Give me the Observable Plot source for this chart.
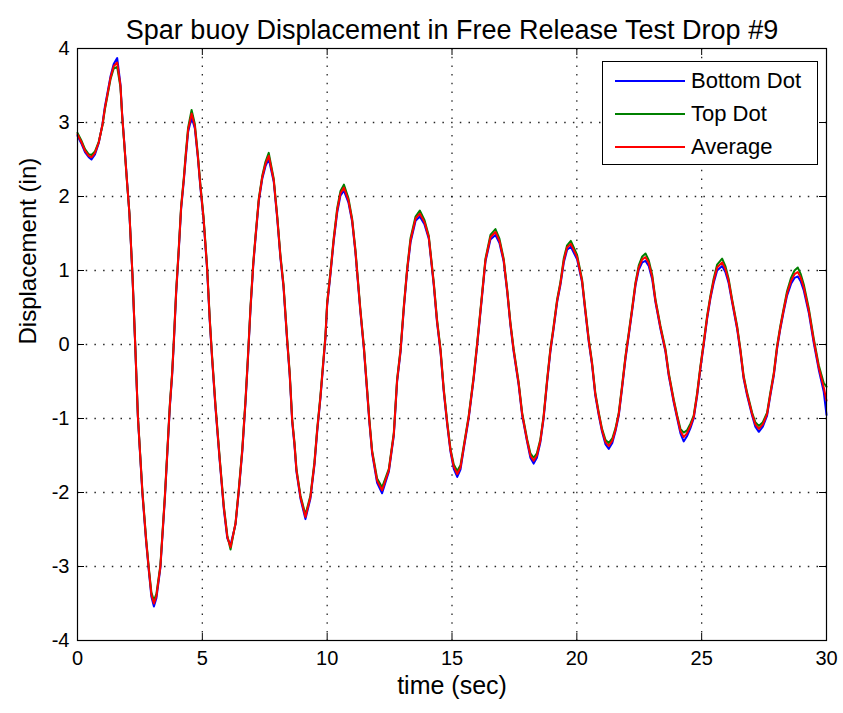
<!DOCTYPE html>
<html>
<head>
<meta charset="utf-8">
<script src="https://cdn.jsdelivr.net/npm/d3@7"></script>
<script src="https://cdn.jsdelivr.net/npm/@observablehq/plot@0.6"></script>
<style>
  html, body { margin: 0; padding: 0; background: #fff; }
  #wrap { position: relative; width: 843px; height: 713px; font-family: "Liberation Sans", Arial, sans-serif; }
  #legend { position: absolute; left: 602px; top: 61px; width: 214px; height: 102px; border: 1px solid #000; background: #fff; }
  .row { position: absolute; left: 0; height: 30px; display: flex; align-items: center; font-size: 22px; color: #000; }
  .sw { width: 70px; height: 2px; margin-left: 12px; margin-right: 6px; }
</style>
</head>
<body>
<div id="wrap"></div>
<script>
const titleText = "Spar buoy Displacement in Free Release Test Drop #9";
const xLabel = "time (sec)";
const yLabel = "Displacement (in)";
const xTicks = [0, 5, 10, 15, 20, 25, 30];
const yTicks = [-4, -3, -2, -1, 0, 1, 2, 3, 4];
const seriesNames = ["Bottom Dot", "Top Dot", "Average"];
const seriesColors = ["#0000ff", "#008000", "#ff0000"];

const time = [0,0.15,0.3,0.45,0.56,0.7,0.85,1.0,1.1,1.2,1.32,1.45,1.59,1.72,1.79,1.86,1.99,2.08,2.2,2.3,2.42,2.6,2.75,2.86,2.96,3.06,3.16,3.32,3.5,3.7,3.79,3.86,3.95,4.05,4.15,4.26,4.33,4.43,4.57,4.7,4.82,4.92,5.05,5.19,5.3,5.39,5.53,5.7,5.86,6.0,6.13,6.33,6.46,6.6,6.73,6.82,6.93,7.04,7.13,7.26,7.4,7.53,7.66,7.86,8.0,8.13,8.25,8.4,8.5,8.6,8.69,8.77,8.93,9.13,9.33,9.49,9.6,9.73,9.84,9.93,10.0,10.13,10.26,10.4,10.53,10.67,10.85,11.0,11.13,11.33,11.47,11.6,11.69,11.8,12.0,12.2,12.47,12.67,12.8,12.94,13.07,13.2,13.34,13.54,13.71,13.9,14.07,14.27,14.4,14.54,14.67,14.81,14.94,15.07,15.21,15.34,15.47,15.67,15.87,16.01,16.21,16.34,16.54,16.74,16.9,17.07,17.21,17.34,17.47,17.67,17.81,18.01,18.14,18.27,18.4,18.54,18.67,18.81,18.94,19.07,19.21,19.34,19.48,19.61,19.76,20.01,20.21,20.34,20.48,20.61,20.74,20.88,21.01,21.15,21.28,21.42,21.55,21.68,21.81,21.95,22.08,22.21,22.35,22.48,22.62,22.75,22.88,23.02,23.15,23.35,23.55,23.68,23.88,24.02,24.15,24.28,24.41,24.55,24.68,24.82,24.95,25.08,25.22,25.35,25.48,25.62,25.82,25.95,26.08,26.22,26.42,26.55,26.68,26.82,27.02,27.15,27.29,27.45,27.62,27.75,27.89,28.02,28.15,28.28,28.42,28.58,28.72,28.85,28.97,29.09,29.29,29.49,29.69,29.89,30.0];

const bottomDot = [2.82,2.72,2.60,2.53,2.50,2.57,2.72,2.98,3.22,3.40,3.62,3.79,3.87,3.52,3.10,2.79,2.18,1.76,0.94,0.09,-0.99,-2.02,-2.67,-3.07,-3.41,-3.54,-3.43,-3.02,-2.08,-0.84,-0.42,0.03,0.68,1.23,1.83,2.22,2.50,2.87,3.07,2.92,2.53,2.13,1.68,1.02,0.30,-0.19,-0.87,-1.59,-2.22,-2.62,-2.71,-2.43,-1.99,-1.45,-0.78,-0.24,0.48,1.07,1.43,1.93,2.24,2.41,2.51,2.20,1.70,1.16,0.78,0.03,-0.42,-1.05,-1.36,-1.72,-2.08,-2.36,-2.08,-1.63,-1.18,-0.73,-0.28,0.08,0.53,0.94,1.39,1.78,2.01,2.08,1.92,1.66,1.25,0.44,-0.06,-0.64,-1.05,-1.47,-1.87,-2.01,-1.72,-1.23,-0.51,-0.10,0.48,0.98,1.38,1.67,1.73,1.62,1.43,0.80,0.30,-0.10,-0.64,-1.09,-1.45,-1.68,-1.79,-1.69,-1.41,-1.00,-0.46,-0.01,0.67,1.12,1.42,1.48,1.37,1.12,0.71,0.26,-0.10,-0.55,-0.96,-1.32,-1.53,-1.61,-1.53,-1.32,-1.00,-0.51,-0.10,0.21,0.57,0.80,1.11,1.28,1.32,1.15,0.84,0.44,0.03,-0.28,-0.69,-0.96,-1.18,-1.35,-1.41,-1.33,-1.17,-0.96,-0.60,-0.19,0.12,0.44,0.80,1.01,1.11,1.13,1.06,0.88,0.57,0.21,-0.10,-0.42,-0.78,-1.00,-1.20,-1.31,-1.24,-1.13,-1.00,-0.69,-0.33,-0.01,0.35,0.62,0.83,1.00,1.06,0.98,0.83,0.57,0.21,-0.10,-0.46,-0.69,-0.96,-1.11,-1.18,-1.11,-0.96,-0.69,-0.42,-0.06,0.21,0.44,0.66,0.82,0.90,0.92,0.85,0.73,0.43,0.02,-0.34,-0.64,-0.95];

const topDot = [2.86,2.76,2.64,2.57,2.56,2.61,2.74,2.96,3.18,3.36,3.58,3.73,3.75,3.48,3.08,2.77,2.16,1.78,0.96,0.11,-0.97,-1.98,-2.63,-3.03,-3.35,-3.46,-3.37,-2.98,-2.04,-0.80,-0.38,0.07,0.72,1.27,1.87,2.26,2.56,2.93,3.17,2.98,2.57,2.17,1.72,1.06,0.34,-0.15,-0.83,-1.55,-2.18,-2.58,-2.77,-2.41,-1.95,-1.41,-0.74,-0.20,0.52,1.11,1.47,1.97,2.28,2.47,2.59,2.24,1.74,1.20,0.82,0.07,-0.38,-1.01,-1.32,-1.68,-2.04,-2.30,-2.04,-1.59,-1.14,-0.69,-0.24,0.12,0.57,0.98,1.43,1.84,2.07,2.16,1.98,1.70,1.29,0.48,-0.02,-0.60,-1.01,-1.43,-1.81,-1.93,-1.68,-1.19,-0.47,-0.06,0.52,1.02,1.44,1.73,1.81,1.68,1.47,0.84,0.34,-0.06,-0.60,-1.05,-1.41,-1.62,-1.71,-1.63,-1.37,-0.96,-0.42,0.03,0.71,1.16,1.48,1.56,1.43,1.16,0.75,0.30,-0.06,-0.51,-0.92,-1.28,-1.47,-1.53,-1.47,-1.28,-0.96,-0.47,-0.06,0.25,0.61,0.84,1.17,1.34,1.40,1.21,0.88,0.48,0.07,-0.24,-0.65,-0.92,-1.14,-1.29,-1.33,-1.27,-1.13,-0.92,-0.56,-0.15,0.16,0.48,0.84,1.07,1.19,1.23,1.14,0.94,0.61,0.25,-0.06,-0.38,-0.74,-0.96,-1.14,-1.19,-1.16,-1.07,-0.96,-0.65,-0.29,0.03,0.39,0.66,0.89,1.08,1.16,1.06,0.89,0.61,0.25,-0.06,-0.42,-0.65,-0.92,-1.05,-1.10,-1.05,-0.92,-0.65,-0.38,-0.02,0.25,0.48,0.72,0.90,1.00,1.04,0.95,0.81,0.49,0.08,-0.28,-0.52,-0.57];

// Average = mean of the two measured dots
const rows = [];
time.forEach((t, i) => {
  rows.push({t, v: bottomDot[i], s: seriesNames[0]});
});
time.forEach((t, i) => {
  rows.push({t, v: topDot[i], s: seriesNames[1]});
});
time.forEach((t, i) => {
  rows.push({t, v: (bottomDot[i] + topDot[i]) / 2, s: seriesNames[2]});
});

const tickLen = 7;
const plotW = 843 - 77 - 17, plotH = 713 - 48 - 73;
const dx = tickLen * 30 / plotW, dy = tickLen * 8 / plotH;

const chart = Plot.plot({
  width: 843,
  height: 713,
  marginTop: 48,
  marginBottom: 73,
  marginLeft: 77,
  marginRight: 17,
  style: {fontFamily: "Liberation Sans, Arial, sans-serif", fontSize: "20px", color: "#000", background: "#fff"},
  x: {domain: [0, 30], label: null},
  y: {domain: [-4, 4], label: null},
  color: {domain: seriesNames, range: seriesColors},
  marks: [
    Plot.gridX(xTicks.slice(1, -1), {stroke: "#000", strokeOpacity: 0.85, strokeDasharray: "1.5,7.2", strokeWidth: 1.3}),
    Plot.gridY(yTicks.slice(1, -1), {stroke: "#000", strokeOpacity: 0.85, strokeDasharray: "1.5,7.2", strokeWidth: 1.3}),
    Plot.ruleX(xTicks, {y1: -4, y2: -4 + dy, stroke: "#000"}),
    Plot.ruleX(xTicks, {y1: 4 - dy, y2: 4, stroke: "#000"}),
    Plot.ruleY(yTicks, {x1: 0, x2: dx, stroke: "#000"}),
    Plot.ruleY(yTicks, {x1: 30 - dx, x2: 30, stroke: "#000"}),
    Plot.line(rows, {x: "t", y: "v", z: "s", stroke: "s", strokeWidth: 2}),
    Plot.frame({stroke: "#000", strokeWidth: 1.2}),
    Plot.axisX(xTicks, {tickSize: 0, tickPadding: 10, fontSize: 20, tickFormat: d => String(d), label: null}),
    Plot.axisY(yTicks, {tickSize: 0, tickPadding: 8, fontSize: 20, tickFormat: d => String(d), label: null}),
    Plot.text([titleText], {text: d => d, frameAnchor: "top", dy: -29, fontSize: 27}),
    Plot.text([xLabel], {text: d => d, frameAnchor: "bottom", dy: 53, fontSize: 25}),
    Plot.text([yLabel], {text: d => d, frameAnchor: "left", dx: -49, rotate: -90, fontSize: 24})
  ]
});

const wrap = document.getElementById("wrap");
wrap.appendChild(chart);

const legend = document.createElement("div");
legend.id = "legend";
seriesNames.forEach((name, i) => {
  const row = document.createElement("div");
  row.className = "row";
  row.style.top = (4 + i * 33) + "px";
  const sw = document.createElement("span");
  sw.className = "sw";
  sw.style.background = seriesColors[i];
  const lab = document.createElement("span");
  lab.textContent = name;
  row.appendChild(sw);
  row.appendChild(lab);
  legend.appendChild(row);
});
wrap.appendChild(legend);
</script>
</body>
</html>
